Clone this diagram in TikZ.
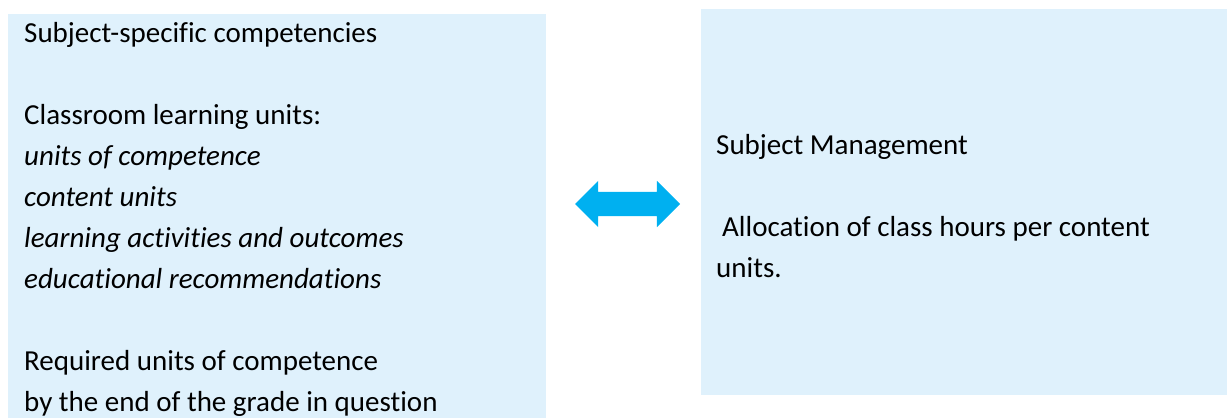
\documentclass[tikz,border=0pt]{standalone}
\usepackage{fontspec}
\setmainfont{Carlito}[Ligatures=NoCommon]
\usetikzlibrary{shapes.arrows}
\definecolor{boxfill}{HTML}{DFF1FC}
\definecolor{arrowblue}{HTML}{00B0F0}
\begin{document}
\begin{tikzpicture}[x=1pt,y=-1pt,
  txt/.style={anchor=base west, inner sep=0pt, font=\fontsize{29}{35}\selectfont},
  panel/.style={fill=boxfill, draw=none, inner sep=0pt, anchor=north west}]
\useasboundingbox (0,0) rectangle (1227,418);
\node[panel, minimum width=538.5pt, minimum height=404pt] (left) at (7.5,14) {};
\node[panel, minimum width=526pt, minimum height=386pt] (right) at (701,9) {};
\node[double arrow, fill=arrowblue, draw=none, inner xsep=0pt, inner ysep=12pt,
  minimum height=105pt, double arrow head extend=11pt,
  double arrow head indent=0pt, double arrow tip angle=90] (arr) at (627.5,204) {};
\node[txt] (l1) at (24,42) {Subject-specific competencies};
\node[txt] (l2) at (24,124) {Classroom learning units:};
\node[txt] (l3) at (24,165) {\itshape units of competence};
\node[txt] (l4) at (24,206) {\itshape content units};
\node[txt] (l5) at (24,247) {\itshape learning activities and outcomes};
\node[txt] (l6) at (24,288) {\itshape educational recommendations};
\node[txt] (l7) at (24,370) {Required units of competence};
\node[txt] (l8) at (24,411) {by the end of the grade in question};
\node[txt] (r1) at (716,154) {Subject Management};
\node[txt] (r2) at (722,236) {Allocation of class hours per content};
\node[txt] (r3) at (716,277) {units.};
\end{tikzpicture}
\end{document}
